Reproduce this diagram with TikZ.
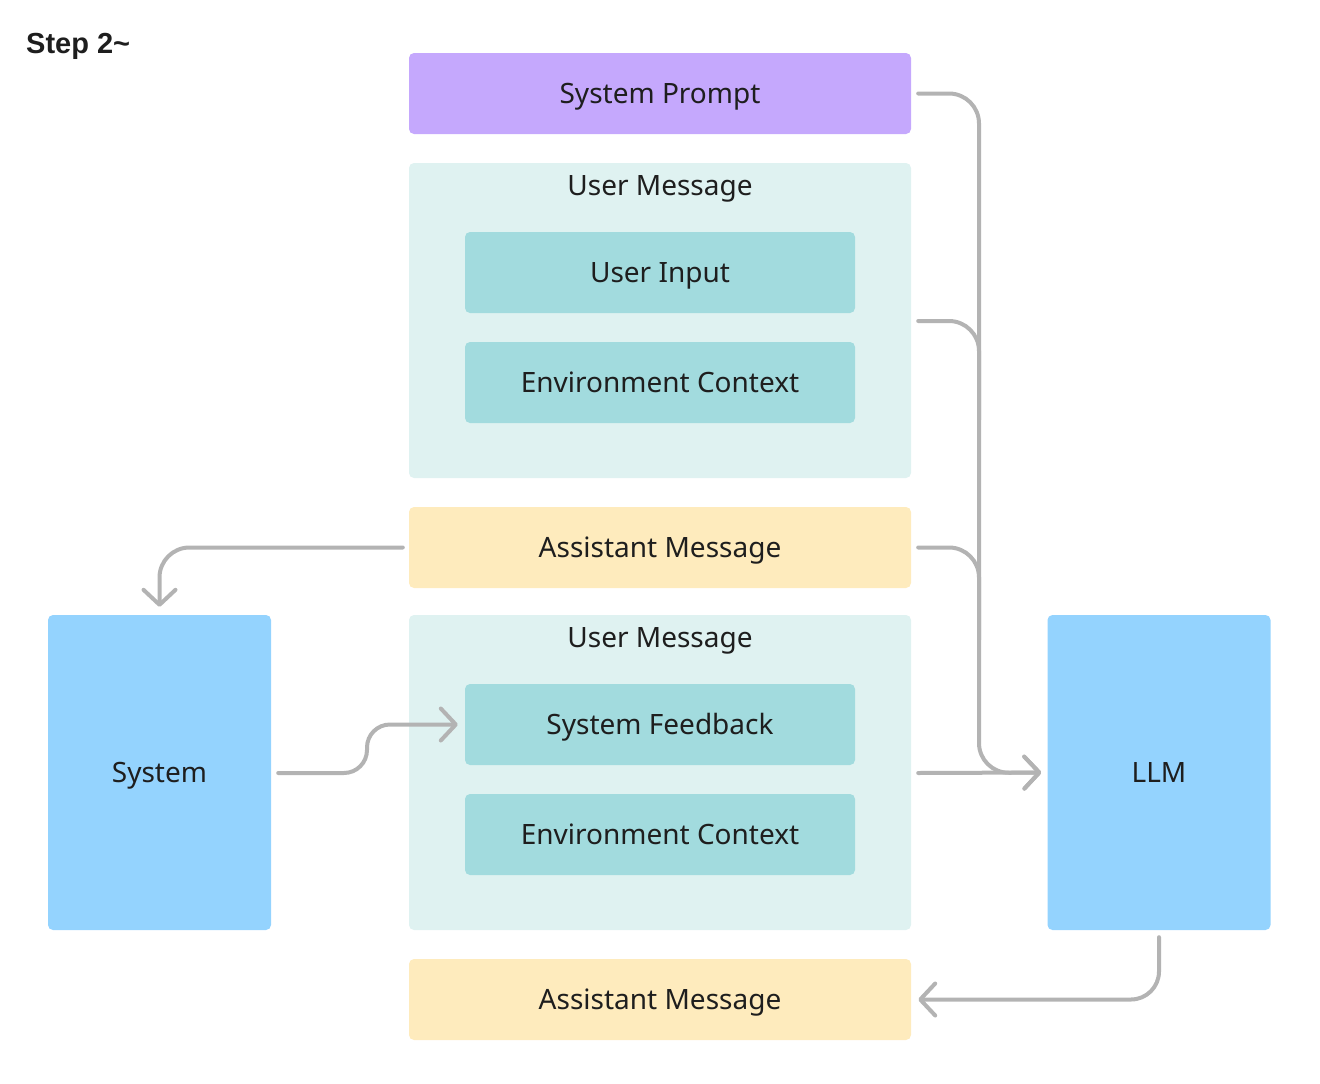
\documentclass[tikz,border=0pt]{standalone}
\usepackage{fontspec}
\setmainfont{Noto Sans}
\newfontfamily\titlefont{Liberation Sans}
\usetikzlibrary{arrows.meta}
\definecolor{cPurple}{HTML}{C5A8FD}
\definecolor{cLight}{HTML}{DFF2F1}
\definecolor{cTeal}{HTML}{A2DBDE}
\definecolor{cYellow}{HTML}{FEEBBD}
\definecolor{cBlue}{HTML}{94D3FE}
\definecolor{cGray}{HTML}{B3B3B3}
\definecolor{cText}{HTML}{1E1E1E}
\tikzset{
  box/.style={rounded corners=5pt, inner sep=0pt, text=cText, font=\fontsize{28}{32}\selectfont, text height=20pt, text depth=0pt},
  wide/.style={box, minimum width=502pt, minimum height=81pt},
  inner/.style={box, fill=cTeal, minimum width=390pt, minimum height=81pt},
  outer/.style={box, fill=cLight, minimum width=502pt, minimum height=315pt},
  tall/.style={box, fill=cBlue, minimum width=223pt, minimum height=315pt},
  conn/.style={draw=cGray, line width=4pt, line cap=round, line join=round, rounded corners=30pt},
  arr/.style={-{Straight Barb[length=15pt, width=32pt, line width=4pt, round]}},
}
\begin{document}
\begin{tikzpicture}[x=1pt, y=-1pt]
\useasboundingbox (0,0) rectangle (1320,1084);
\node[anchor=west, font=\titlefont\fontsize{29}{32}\selectfont\bfseries, text=cText, inner sep=0pt, text height=21pt, text depth=0pt] (title) at (26,42.5) {Step 2\char`\~};

\node[wide, fill=cPurple] (sp) at (660,93.5) {System Prompt};

\node[outer] (um1) at (660,320.5) {};
\node[box] (um1t) at (660,185) {User Message};
\node[inner] (ui) at (660,272.5) {User Input};
\node[inner] (ec1) at (660,382.5) {Environment Context};

\node[wide, fill=cYellow] (am1) at (660,547.5) {Assistant Message};

\node[outer] (um2) at (660,772.5) {};
\node[box] (um2t) at (660,637) {User Message};
\node[inner] (sf) at (660,724.5) {System Feedback};
\node[inner] (ec2) at (660,834.5) {Environment Context};

\node[wide, fill=cYellow] (am2) at (660,999.5) {Assistant Message};

\node[tall] (sys) at (159.5,772.5) {System};
\node[tall] (llm) at (1159,772.5) {LLM};

\coordinate (bus) at (979,773);
\coordinate (busA) at (979,420);
\coordinate (busB) at (979,640);
\coordinate (bend) at (367,773);

\draw[conn, arr] ([xshift=7pt]sp.east) -| (bus) -- ([xshift=-6pt]llm.west);
\draw[conn] ([xshift=7pt, yshift=-0.5pt]um1.east) -| (busA);
\draw[conn] ([xshift=7pt]am1.east) -| (busB);
\draw[conn, arr] ([xshift=7pt, yshift=-0.5pt]um2.east) -- ([xshift=-6pt]llm.west);

\draw[conn, arr] ([xshift=-6pt]am1.west) -| ([yshift=8pt]sys.north);
\draw[conn, arr, rounded corners=23pt] ([xshift=7pt, yshift=-0.5pt]sys.east) -- (bend) |- ([xshift=-7pt]sf.west);
\draw[conn, arr, rounded corners=28pt] ([yshift=-7pt]llm.south) |- ([xshift=7pt]am2.east);
\end{tikzpicture}
\end{document}
